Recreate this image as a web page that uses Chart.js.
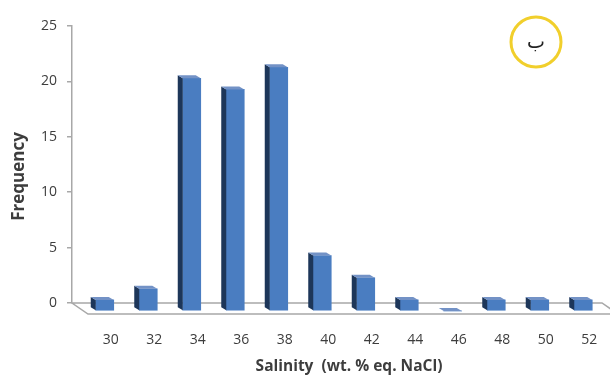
<!DOCTYPE html>
<html>
<head>
<meta charset="utf-8">
<script src="https://cdn.jsdelivr.net/npm/chart.js@4/dist/chart.umd.min.js"></script>
<style>
  html, body { margin: 0; padding: 0; background: #ffffff; }
  #wrap { width: 610px; height: 378px; }
</style>
</head>
<body>
<div id="wrap"><canvas id="chart" width="610" height="378"></canvas></div>
<script>
// Salinity classes (wt. % eq. NaCl) and the number of inclusions in each
const salinity = ['30', '32', '34', '36', '38', '40', '42', '44', '46', '48', '50', '52'];
const frequency = [1, 2, 21, 20, 22, 5, 3, 1, 0, 1, 1, 1];
const yTicks = [0, 5, 10, 15, 20, 25];

const xTitle = 'Salinity  (wt. % eq. NaCl)';
const yTitle = 'Frequency';
const panelMark = 'ب';

// Oblique projection used for the pseudo-3D look
const BAR_SHIFT = { x: 11, y: 8 };     // bars sit half-way into the floor
const BAR_DEPTH = { x: 5, y: 3 };      // visible depth of each bar
const FLOOR_DEPTH = { x: 16, y: 11 };  // floor slab from back wall to front edge
const FLOOR_OVER = 8;

const FRONT = '#4a7dc1';
const SIDE = '#1d3659';
const TOP = '#7392c6';
const AXIS = '#a8a8a8';
const TEXT = '#3d3d3d';

const bar3d = {
  id: 'bar3d',
  beforeDatasetsDraw(chart) {
    const { ctx, chartArea: a } = chart;
    // floor
    ctx.save();
    ctx.beginPath();
    ctx.moveTo(a.left, a.bottom);
    ctx.lineTo(a.right + FLOOR_OVER, a.bottom);
    ctx.lineTo(a.right + FLOOR_OVER + FLOOR_DEPTH.x, a.bottom + FLOOR_DEPTH.y);
    ctx.lineTo(a.left + FLOOR_DEPTH.x, a.bottom + FLOOR_DEPTH.y);
    ctx.closePath();
    ctx.fillStyle = '#ffffff';
    ctx.fill();
    ctx.strokeStyle = AXIS;
    ctx.lineWidth = 1.5;
    ctx.stroke();
    ctx.restore();
    // bars are drawn in the shifted plane
    ctx.save();
    ctx.translate(BAR_SHIFT.x, BAR_SHIFT.y);
  },
  afterDatasetsDraw(chart) {
    const { ctx } = chart;
    chart.getDatasetMeta(0).data.forEach(el => {
      const { x, y, base, width } = el.getProps(['x', 'y', 'base', 'width'], true);
      const l = x - width / 2, r = x + width / 2;
      ctx.fillStyle = SIDE;
      ctx.beginPath();
      ctx.moveTo(l, base);
      ctx.lineTo(l, y);
      ctx.lineTo(l - BAR_DEPTH.x, y - BAR_DEPTH.y);
      ctx.lineTo(l - BAR_DEPTH.x, base - BAR_DEPTH.y);
      ctx.closePath();
      ctx.fill();
      ctx.fillStyle = TOP;
      ctx.beginPath();
      ctx.moveTo(l, y);
      ctx.lineTo(r, y);
      ctx.lineTo(r - BAR_DEPTH.x, y - BAR_DEPTH.y);
      ctx.lineTo(l - BAR_DEPTH.x, y - BAR_DEPTH.y);
      ctx.closePath();
      ctx.fill();
    });
    ctx.restore();
  },
  afterDraw(chart) {
    const { ctx, chartArea: a } = chart;
    ctx.save();
    ctx.fillStyle = TEXT;
    ctx.textAlign = 'center';
    ctx.textBaseline = 'middle';
    // x-axis title, centred under the front edge of the floor
    ctx.font = 'bold 15.5px "Open Sans"';
    ctx.fillText(xTitle, (a.left + a.right) / 2 + FLOOR_DEPTH.x, 367);
    // y-axis title
    ctx.save();
    ctx.translate(19, (a.top + a.bottom) / 2 + 12);
    ctx.rotate(-Math.PI / 2);
    ctx.font = 'bold 17px "Open Sans"';
    ctx.fillText(yTitle, 0, 0);
    ctx.restore();
    // panel mark in a yellow ring
    const cx = a.right - 58, cy = a.top + 16;
    ctx.beginPath();
    ctx.arc(cx, cy, 25, 0, Math.PI * 2);
    ctx.strokeStyle = '#f1cf2c';
    ctx.lineWidth = 3;
    ctx.stroke();
    ctx.font = '19px "Noto Sans", "DejaVu Sans"';
    ctx.fillStyle = '#222222';
    ctx.fillText(panelMark, cx, cy + 1);
    ctx.restore();
  }
};

new Chart(document.getElementById('chart'), {
  type: 'bar',
  data: {
    labels: salinity,
    datasets: [{
      data: frequency,
      backgroundColor: FRONT,
      borderWidth: 0,
      barThickness: 18,
      clip: false
    }]
  },
  options: {
    responsive: false,
    devicePixelRatio: 1,
    animation: false,
    layout: { padding: { top: 26, right: 16, left: 0, bottom: 0 } },
    plugins: { legend: { display: false }, tooltip: { enabled: false } },
    scales: {
      x: {
        grid: { display: false },
        border: { display: false },
        ticks: {
          color: TEXT,
          font: { family: '"Open Sans"', size: 14 },
          labelOffset: 17,
          padding: 21,
          maxRotation: 0,
          autoSkip: false
        },
        afterFit(scale) { scale.height = 75; }
      },
      y: {
        min: 0,
        max: 25,
        afterBuildTicks(scale) { scale.ticks = yTicks.map(v => ({ value: v })); },
        grid: { drawOnChartArea: false, drawTicks: true, tickLength: 5, color: AXIS, lineWidth: 1.5 },
        border: { color: AXIS, width: 1.5 },
        ticks: {
          color: TEXT,
          font: { family: '"Open Sans"', size: 14 },
          padding: 10
        },
        afterFit(scale) { scale.width = 72; }
      }
    }
  },
  plugins: [bar3d]
});
</script>
</body>
</html>
